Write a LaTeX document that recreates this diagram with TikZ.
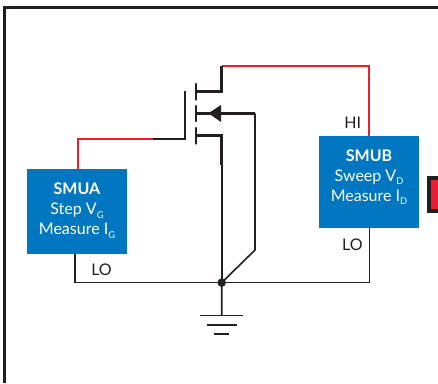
\documentclass[tikz,border=0pt]{standalone}
\usepackage{fontspec}
\setmainfont{Lato}
\usetikzlibrary{calc}
\definecolor{smublue}{HTML}{0077C0}
\definecolor{wirered}{HTML}{ED1C2E}
\definecolor{inkblack}{HTML}{231F20}
\tikzset{x=0.75pt,y=-0.75pt,
  smubox/.style={fill=smublue,inner sep=0pt},
  smutext/.style={text=white,inner sep=0pt,align=center,font=\fontsize{12pt}{15pt}\selectfont},
  redwire/.style={draw=wirered,line width=1.7pt},
  thinwire/.style={draw=inkblack,line width=1.2pt},
  thickwire/.style={draw=inkblack,line width=2.1pt},
  lab/.style={text=inkblack,inner sep=0pt,font=\fontsize{12pt}{14pt}\selectfont}}
\newcommand{\lsub}[1]{\raisebox{-2.6pt}{\fontsize{7pt}{7pt}\selectfont #1}}
\begin{document}
\begin{tikzpicture}
\useasboundingbox (0,0) rectangle (438,383);
% frame
\draw[inkblack,line width=2.1pt] (4.5,383) -- (4.5,7.3) -- (438,7.3);
% SMU boxes
\node[smubox,minimum width=75pt,minimum height=63.5pt] (smua) at (77,211.4) {};
\node[smubox,minimum width=75pt,minimum height=69pt] (smub) at (369,182) {};
\node[smutext,anchor=north] (smuatext) at (77,183) {\textbf{SMUA}\\Step V\lsub{G}\\Measure I\lsub{G}};
\node[smutext,anchor=north] (smubtext) at (369,149.5) {\textbf{SMUB}\\Sweep V\lsub{D}\\Measure I\lsub{D}};
% coordinates
\coordinate (gateend) at (153,139);
\coordinate (gatecorner) at (185,139);
\coordinate (gatetop) at (185,90.5);
\coordinate (draincorner) at (221.7,91.3);
\coordinate (draintop) at (221.7,65.7);
\coordinate (bulkend) at (255,113.3);
\coordinate (bulkbend) at (255,250);
\coordinate (srccorner) at (221.7,135.7);
\coordinate (srcend) at (221.7,165);
\coordinate (hicorner) at (369.3,65.7);
\coordinate (leftcorner) at (78,139);
\coordinate (junction) at (221.7,282.6);
\coordinate (gndtop) at (221.7,315.5);
\coordinate (smualo) at (74.7,282.6);
\coordinate (smublo) at (369.3,282.6);
% red wires
\draw[redwire] (gateend) -- (leftcorner) -- (leftcorner |- smua.north);
\draw[redwire] (draintop) -- (hicorner) -- (hicorner |- smub.north);
% lower wires
\draw[thinwire] (smualo |- smua.south) -- (smualo) -- (smublo) -- (smublo |- smub.south);
\draw[thinwire] (bulkend) -- (bulkbend) -- (junction) -- (gndtop);
\draw[thinwire] (srcend) -- (junction);
\fill[inkblack] (junction) circle (3.2pt);
% mosfet
\draw[thickwire,line join=miter] (gateend) -- (gatecorner) -- (gatetop);
\draw[thickwire,line cap=round] (196,84) -- (196,99.5);
\draw[thickwire,line cap=round] (196,106) -- (196,121);
\draw[thickwire,line cap=round] (196,128) -- (196,143.5);
\draw[thickwire] (196,91.3) -- (draincorner) -- (draintop);
\draw[thickwire] (196,135.7) -- (srccorner) -- (srcend);
\draw[thickwire] (196,113.3) -- (bulkend);
\fill[inkblack] (208.5,113.3) -- (221,105) -- (221,122) -- cycle;
% ground
\draw[inkblack,line width=1.05pt] (200,315.5) -- (243,315.5);
\draw[inkblack,line width=1.4pt] (207,325) -- (236.5,325);
\draw[inkblack,line width=1.4pt] (214,334.3) -- (229,334.3);
% labels
\node[lab,anchor=west] (lolefttext) at (91,269.5) {LO};
\node[lab] (hitext) at (352.7,122.5) {HI};
\node[lab] (lorighttext) at (352.3,245) {LO};
% right instrument
\draw[inkblack,line width=3pt,fill=wirered] (439,178) -- (429,178) -- (429,210.5) -- (439,210.5);
\end{tikzpicture}
\end{document}
